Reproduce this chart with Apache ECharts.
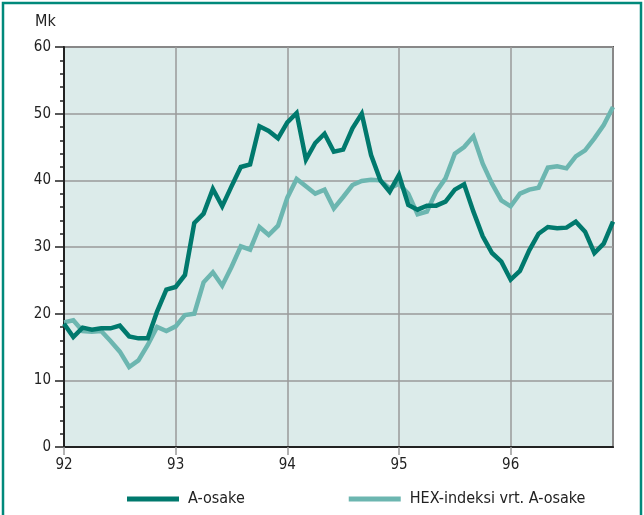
<!DOCTYPE html>
<html>
<head>
<meta charset="utf-8">
<script src="https://cdn.jsdelivr.net/npm/echarts@6/dist/echarts.min.js"></script>
<style>
  html, body { margin: 0; padding: 0; background: #ffffff; }
  #chart { width: 644px; height: 515px; }
</style>
</head>
<body>
<div id="chart"></div>
<script>
// Monthly share prices, Jan 1992 – Dec 1996 (Mk)
const yearLabels = ['92', '93', '94', '95', '96'];
const seriesNames = ['A-osake', 'HEX-indeksi vrt. A-osake'];

const aOsake = [
  18.5, 16.5, 17.9, 17.6, 17.8, 17.8, 18.2, 16.6, 16.3, 16.3, 20.3, 23.6,
  24.0, 25.8, 33.6, 35.0, 38.7, 36.1, 39.1, 42.0, 42.4, 48.1, 47.4, 46.3,
  48.7, 50.1, 43.1, 45.6, 47.0, 44.3, 44.6, 47.8, 50.0, 43.8, 40.0, 38.3,
  40.8, 36.3, 35.6, 36.2, 36.2, 36.8, 38.6, 39.4, 35.3, 31.6, 29.1, 27.8,
  25.1, 26.4, 29.5, 32.0, 33.0, 32.8, 32.9, 33.8, 32.3, 29.1, 30.5, 33.8
];

const hexIndex = [
  18.7, 19.0, 17.4, 17.3, 17.4, 15.9, 14.3, 12.0, 13.0, 15.3, 18.0, 17.4,
  18.1, 19.8, 20.0, 24.7, 26.2, 24.2, 27.0, 30.1, 29.6, 33.0, 31.8, 33.2,
  37.4, 40.2, 39.1, 38.0, 38.6, 35.8, 37.5, 39.3, 39.9, 40.1, 40.0, 38.8,
  39.5, 38.0, 34.9, 35.3, 38.3, 40.3, 44.0, 45.0, 46.6, 42.5, 39.5, 37.0,
  36.1, 38.0, 38.6, 38.9, 41.9, 42.1, 41.8, 43.6, 44.5, 46.3, 48.3, 51.0
];

const colorDark = '#00796d';
const colorLight = '#6cb6b0';
const fontFamily = '"Liberation Sans Narrow", "DejaVu Sans Condensed", sans-serif';

const toPoints = arr => arr.map((v, i) => [i, v]);

const chart = echarts.init(document.getElementById('chart'), null, { renderer: 'canvas' });

chart.setOption({
  animation: false,
  backgroundColor: '#ffffff',
  graphic: [
    {
      type: 'rect',
      shape: { x: 3, y: 3, width: 638, height: 545 },
      style: { fill: 'none', stroke: '#00897b', lineWidth: 2.5 },
      silent: true,
      z: 100
    },
    {
      type: 'text',
      left: 35,
      top: 14,
      style: { text: 'Mk', font: '16px ' + fontFamily, fill: '#222222' }
    }
  ],
  legend: {
    data: seriesNames,
    left: 122,
    top: 486,
    icon: 'rect',
    itemWidth: 52,
    itemHeight: 5,
    itemGap: 104,
    textStyle: {
      fontFamily: fontFamily,
      fontSize: 16,
      color: '#222222',
      padding: [0, 0, 0, 4]
    }
  },
  grid: {
    left: 64,
    top: 47,
    right: 31,
    bottom: 68,
    show: true,
    backgroundColor: '#dcebea',
    borderColor: '#555555',
    borderWidth: 2
  },
  xAxis: {
    type: 'value',
    min: 0,
    max: 59,
    interval: 12,
    axisLine: { show: true, onZero: false, lineStyle: { color: '#222222', width: 2 } },
    axisTick: { show: true, length: 8, lineStyle: { color: '#999999', width: 1.5 } },
    axisLabel: {
      margin: 11,
      showMaxLabel: false,
      fontFamily: fontFamily,
      fontSize: 15,
      color: '#222222',
      formatter: v => yearLabels[v / 12] || ''
    },
    splitLine: { show: true, lineStyle: { color: '#9a9a9a', width: 1.5 } }
  },
  yAxis: {
    type: 'value',
    min: 0,
    max: 60,
    interval: 10,
    axisLine: { show: true, lineStyle: { color: '#222222', width: 2 } },
    axisTick: { show: true, length: 9, lineStyle: { color: '#222222', width: 1.5 } },
    minorTick: { show: true, splitNumber: 5, length: 4, lineStyle: { color: '#222222', width: 1.5 } },
    axisLabel: {
      margin: 13,
      fontFamily: fontFamily,
      fontSize: 15,
      color: '#222222'
    },
    splitLine: { show: true, lineStyle: { color: '#9a9a9a', width: 1.5 } }
  },
  series: [
    {
      name: seriesNames[0],
      type: 'line',
      data: toPoints(aOsake),
      showSymbol: false,
      z: 4,
      itemStyle: { color: colorDark },
      lineStyle: { color: colorDark, width: 4.5, join: 'miter' }
    },
    {
      name: seriesNames[1],
      type: 'line',
      data: toPoints(hexIndex),
      showSymbol: false,
      z: 3,
      itemStyle: { color: colorLight },
      lineStyle: { color: colorLight, width: 4.5, join: 'miter' }
    }
  ]
});
</script>
</body>
</html>
